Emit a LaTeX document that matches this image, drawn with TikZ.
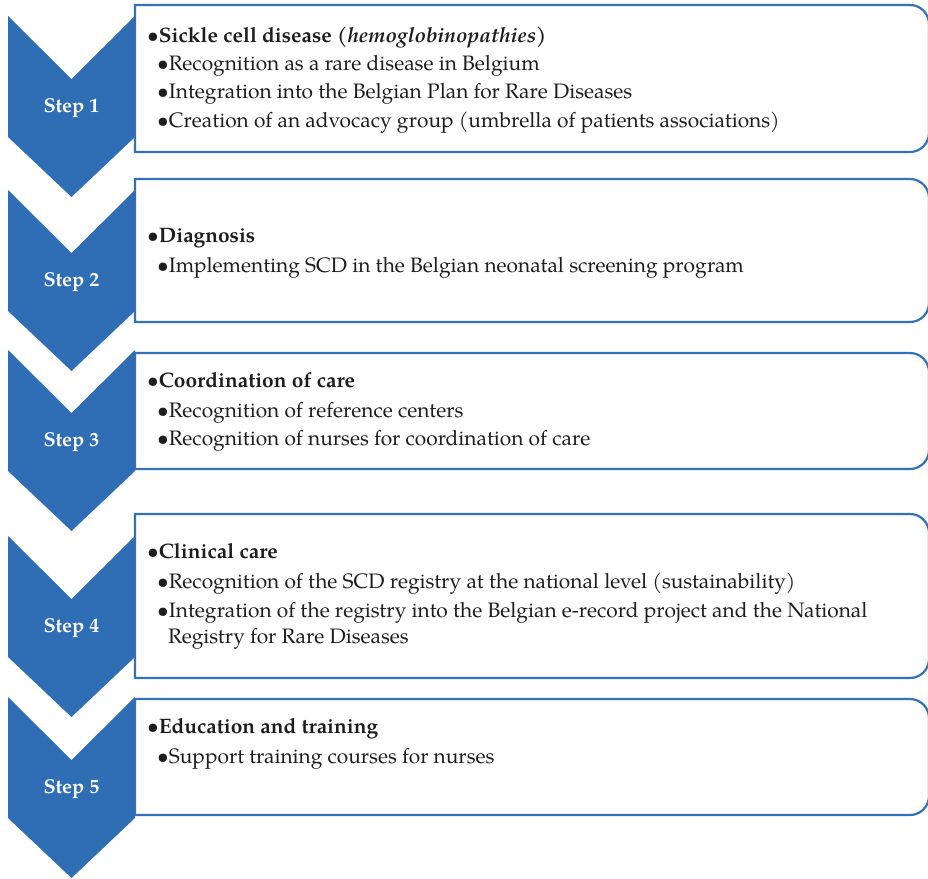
\documentclass[tikz,border=0pt]{standalone}
\usepackage{fontspec}
\setmainfont{TeX Gyre Pagella}
\definecolor{chevblue}{HTML}{2F6DB5}
\definecolor{boxblue}{HTML}{3571B8}
\definecolor{txt}{HTML}{1E1E1E}
\begin{document}
\begin{tikzpicture}[x=1pt,y=-1pt,
  chev/.style={fill=chevblue,draw=none},
  frame/.style={draw=boxblue,line width=2.2pt,fill=white},
  steplabel/.style={font=\fontsize{20}{24}\selectfont\bfseries,text=white,inner sep=0},
  lineA/.style={anchor=base west,inner sep=0,font=\fontsize{20.9}{24}\selectfont,text=txt},
  lineB/.style={anchor=base west,inner sep=0,font=\fontsize{20.9}{24}\selectfont,text=txt}]
\useasboundingbox (0,0) rectangle (928,878);
% boxes
\foreach \t/\b in {5/152,179/322,353/469,514/678,699/815}{
  \draw[frame] (135,\t) -- (910,\t) .. controls (920.5,\t) and (929,\t+8.5) .. (929,\t+19)
    -- (929,\b-19) .. controls (929,\b-8.5) and (920.5,\b) .. (910,\b) -- (135,\b) -- cycle;
}
% chevrons
\foreach \T/\n in {16/1,190/2,350/3,536/4,697/5}{
  \fill[chev] (8,\T) -- (71.5,\T+63) -- (135,\T) -- (135,\T+121) -- (71.5,\T+181) -- (8,\T+121) -- cycle;
  \node[steplabel] (s\n) at (71.5,\T+92) {Step \n};
}
% box 1
\node[lineA] (b1a) at (147,42) {•\textbf{Sickle cell disease} \textbf{\textit{(hemoglobinopathies)}}};
\node[lineB] (b1b) at (157,70) {•Recognition as a rare disease in Belgium};
\node[lineB] (b1c) at (157,98) {•Integration into the Belgian Plan for Rare Diseases};
\node[lineB] (b1d) at (157,127) {•Creation of an advocacy group (umbrella of patients associations)};
% box 2
\node[lineA] (b2a) at (147,242) {•\textbf{Diagnosis}};
\node[lineB] (b2b) at (157,272) {•Implementing SCD in the Belgian neonatal screening program};
% box 3
\node[lineA] (b3a) at (147,387) {•\textbf{Coordination of care}};
\node[lineB] (b3b) at (157,417) {•Recognition of reference centers};
\node[lineB] (b3c) at (157,445) {•Recognition of nurses for coordination of care};
% box 4
\node[lineA] (b4a) at (147,558) {•\textbf{Clinical care}};
\node[lineB] (b4b) at (157,588) {•Recognition of the SCD registry at the national level (sustainability)};
\node[lineB] (b4c) at (157,617) {•Integration of the registry into the Belgian e-record project and the National};
\node[lineB] (b4d) at (168,643) {Registry for Rare Diseases};
% box 5
\node[lineA] (b5a) at (147,733) {•\textbf{Education and training}};
\node[lineB] (b5b) at (157,763) {•Support training courses for nurses};
\end{tikzpicture}
\end{document}
